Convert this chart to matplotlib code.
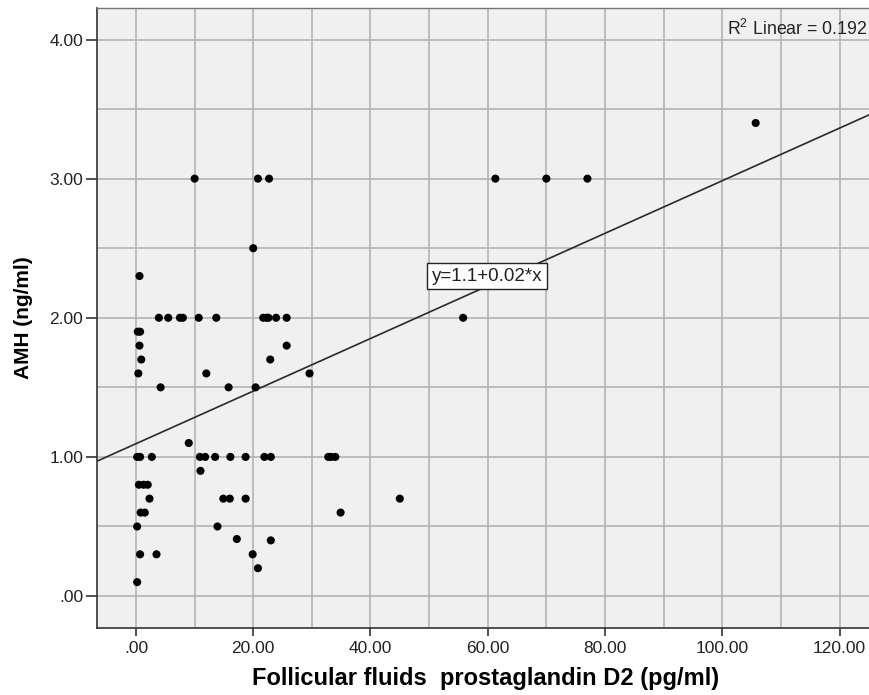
import matplotlib
matplotlib.use("Agg")
import matplotlib.pyplot as plt
import numpy as np

plt.rcParams['font.family'] = ['Liberation Sans', 'DejaVu Sans']
plt.rcParams['mathtext.fontset'] = 'custom'
plt.rcParams['mathtext.rm'] = 'Liberation Sans'
plt.rcParams['mathtext.it'] = 'Liberation Sans:italic'
plt.rcParams['mathtext.bf'] = 'Liberation Sans:bold'

# ---- data ----
pgd2 = [10.0, 20.8, 22.7, 61.3, 70.0, 77.0,
        105.7,
        20.0,
        0.6,
        3.9, 5.5, 7.5, 8.0, 10.7, 13.7, 21.7, 22.3, 22.6, 23.9, 25.7, 55.8,
        0.3, 0.7,
        0.6, 25.7,
        0.9, 22.9,
        0.4, 12.0, 29.6,
        4.2, 15.8, 20.4,
        9.0,
        0.2, 0.7, 2.7, 10.9, 11.8, 13.5, 16.1, 18.7, 21.9, 23.0, 32.8, 33.3, 34.0,
        11.0,
        0.5, 1.3, 2.0,
        2.3, 14.9, 16.0, 18.7, 45.0,
        0.8, 1.5, 34.9,
        0.2, 13.9,
        17.2,
        23.0,
        0.7, 3.5, 19.9,
        20.8,
        0.2]
amh = [3.0, 3.0, 3.0, 3.0, 3.0, 3.0,
       3.4,
       2.5,
       2.3,
       2.0, 2.0, 2.0, 2.0, 2.0, 2.0, 2.0, 2.0, 2.0, 2.0, 2.0, 2.0,
       1.9, 1.9,
       1.8, 1.8,
       1.7, 1.7,
       1.6, 1.6, 1.6,
       1.5, 1.5, 1.5,
       1.1,
       1.0, 1.0, 1.0, 1.0, 1.0, 1.0, 1.0, 1.0, 1.0, 1.0, 1.0, 1.0, 1.0,
       0.9,
       0.8, 0.8, 0.8,
       0.7, 0.7, 0.7, 0.7, 0.7,
       0.6, 0.6, 0.6,
       0.5, 0.5,
       0.41,
       0.4,
       0.3, 0.3, 0.3,
       0.2,
       0.1]

fit_intercept = 1.095
fit_slope = 0.0189
fit_label = "y=1.1+0.02*x"
r2_label = r"R$^{2}$ Linear = 0.192"

x_ticks = [0, 20, 40, 60, 80, 100, 120]
x_ticklabels = ['.00', '20.00', '40.00', '60.00', '80.00', '100.00', '120.00']
y_ticks = [0, 1, 2, 3, 4]
y_ticklabels = ['.00', '1.00', '2.00', '3.00', '4.00']

x_label = "Follicular fluids  prostaglandin D2 (pg/ml)"
y_label = "AMH (ng/ml)"

# ---- figure ----
fig = plt.figure(figsize=(8.7, 6.95), dpi=100)
ax = fig.add_axes([97/870, (695-627.5)/695, (870-97)/870, 620/695])
ax.set_facecolor('#f0f0f0')

xmin, xmax = -6.65, 125.2
ax.set_xlim(xmin, xmax)
ax.set_ylim(-0.226, 4.23)

ax.set_xticks(x_ticks)
ax.set_xticklabels(x_ticklabels)
ax.set_yticks(y_ticks)
ax.set_yticklabels(y_ticklabels)
ax.set_xticks(np.arange(0, 130, 10), minor=True)
ax.set_yticks(np.arange(0, 4.5, 0.5), minor=True)
ax.grid(True, which='both', color='#b0b0b0', linewidth=1.1, zorder=0)
ax.set_axisbelow(True)

ax.tick_params(axis='x', which='major', direction='out', length=6, width=1.1,
               colors='#222222', labelsize=12.5, pad=4)
ax.tick_params(axis='y', which='major', direction='out', length=8, width=1.1,
               colors='#222222', labelsize=12.5, pad=2)
ax.tick_params(which='minor', length=0)

for s in ['left', 'bottom']:
    ax.spines[s].set_color('#333333')
    ax.spines[s].set_linewidth(1.2)
ax.spines['top'].set_color('#777777')
ax.spines['top'].set_linewidth(1.0)
ax.spines['right'].set_visible(False)

# fit line
xs = np.array([xmin, xmax])
ax.plot(xs, fit_intercept + fit_slope * xs, color='#2a2a2a', linewidth=1.2,
        zorder=2, clip_on=True)

# points
ax.scatter(pgd2, amh, s=34, marker='o', color='black', edgecolors='none',
           zorder=3)

# fit label box
ax.text(59.9, 2.30, fit_label, fontsize=13.5, ha='center', va='center',
        color='#222222', zorder=4,
        bbox=dict(boxstyle='square,pad=0.25', facecolor='white',
                  edgecolor='#222222', linewidth=1.0))

# R^2 text
ax.text(0.997, 0.965, r2_label, transform=ax.transAxes, fontsize=12.8,
        ha='right', va='center', color='#222222')

ax.set_xlabel(x_label, fontsize=17, fontweight='bold')
ax.set_ylabel(y_label, fontsize=15, fontweight='bold')
ax.xaxis.set_label_coords(0.503, -0.063)
ax.yaxis.set_label_coords(-0.083, 0.5)

fig.savefig('out.png', dpi=100)
